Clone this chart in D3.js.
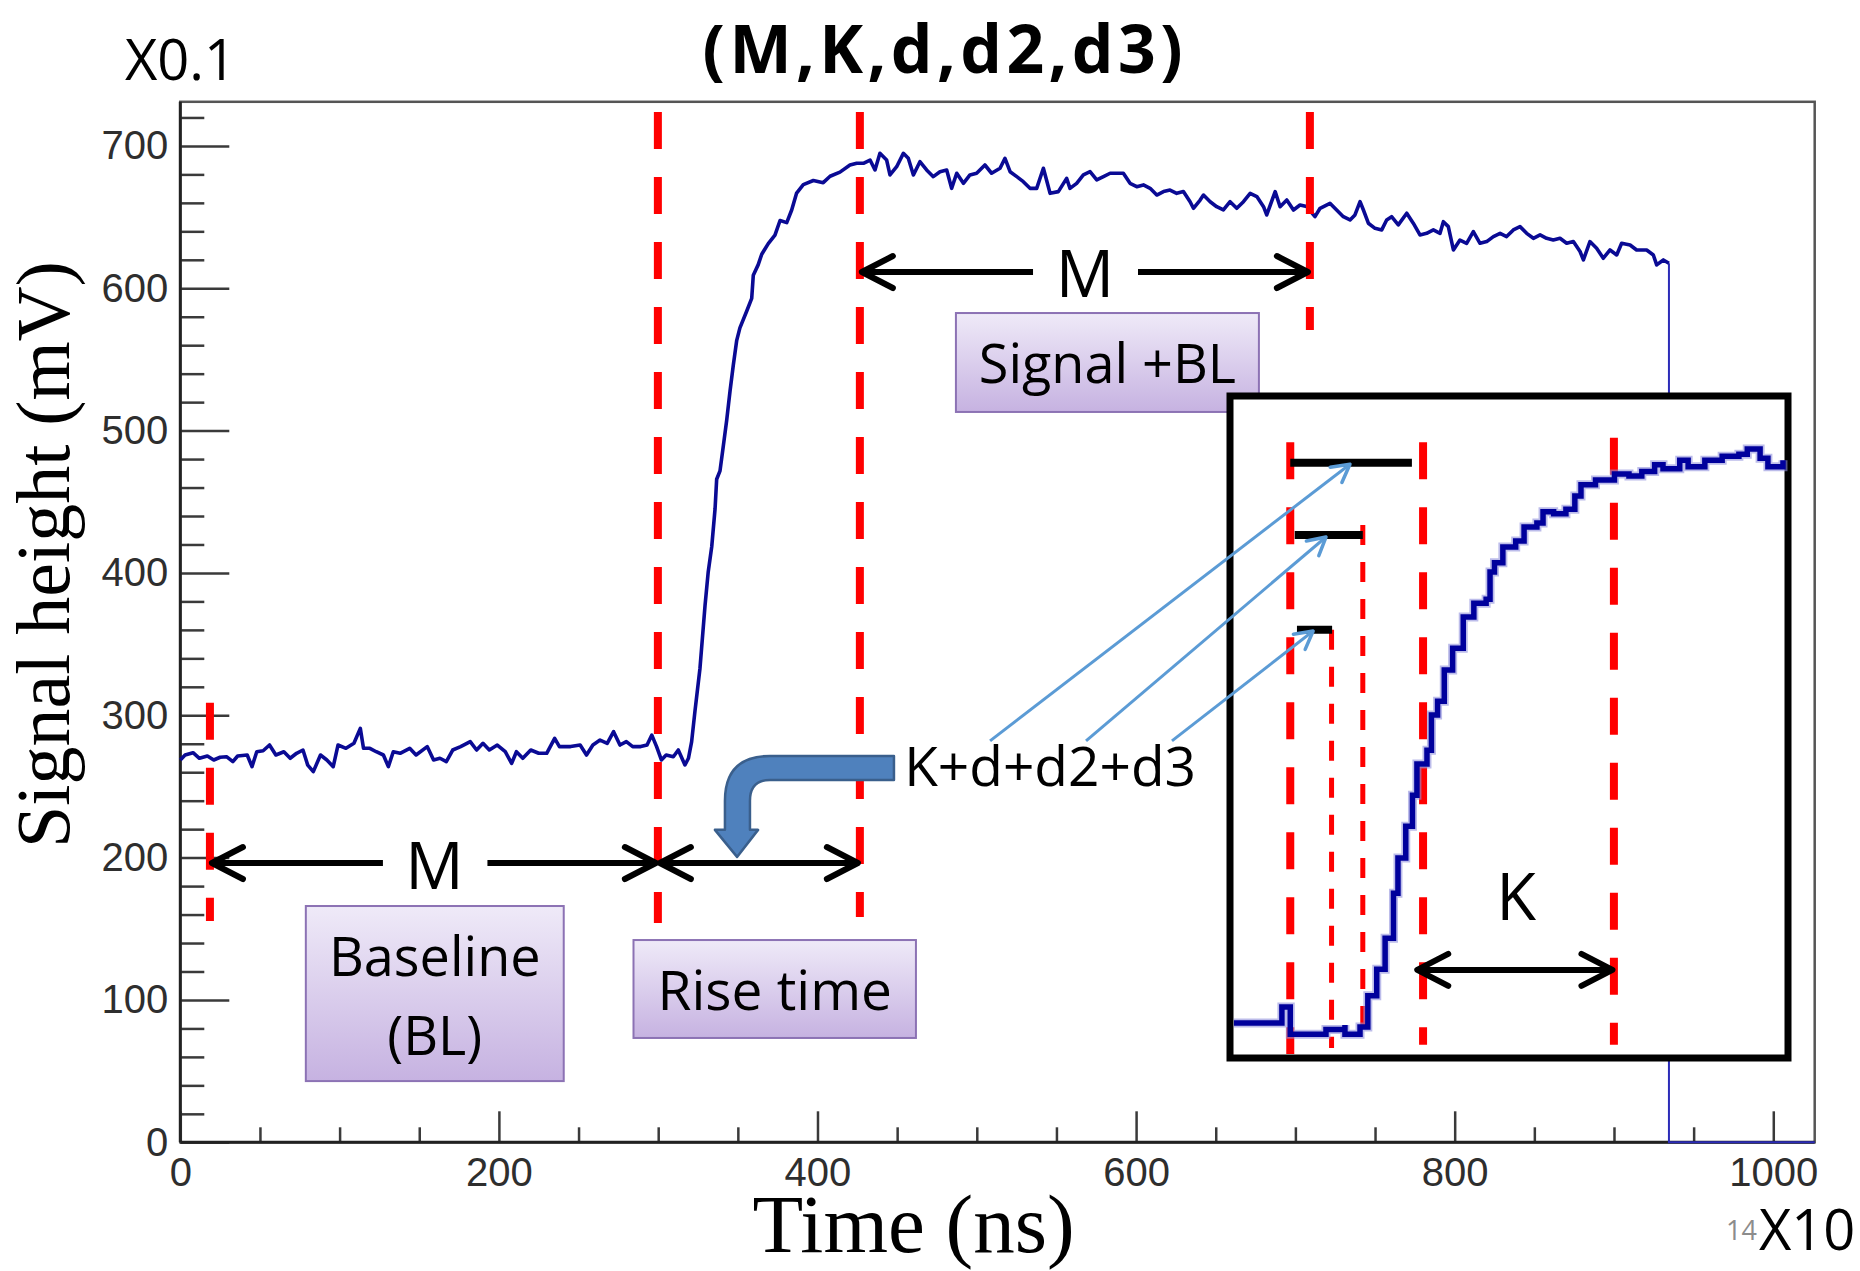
<!DOCTYPE html>
<html><head><meta charset="utf-8">
<script src="https://cdn.jsdelivr.net/npm/d3@7"></script>
<style>body{margin:0;background:#fff}svg{display:block}</style>
</head><body>
<svg id="c" width="1860" height="1271"></svg>
<script>
// ---------- DATA ----------
const signalTime = [0,3,8,12,17,21,25,29,33,36,42,45,48,52,56,60,65,69,73,77,80,83.5,88,92,96,99,104,109,113,115,119,123,127.5,130.6,133.7,138,144,148,155,159,163,167,171,176,182,186,190,194,199,204,208,211,215,220,225,230,235,238,245,251,255,259,263.5,268,272,276,280,284,289,293,296,299,302,305,309.5,312.6,316.8,319,321,
323.1,326.2,329.4,331.4,333.6,335.7,336.7,338.8,340.9,343,345.1,347.1,349.3,351.3,355.6,358.7,359.7,362.8,365,369.1,373.3,376.5,380.7,383.8,386.9,391.1,397.4,403.6,407.9,414.1,
420.4,424.6,428.8,433,436.1,439.2,443.4,445.5,449.7,453.9,457,460.2,464.3,468.5,472.7,476.9,481.1,484.2,487.4,491.6,495.7,499.9,505.1,509.3,514.6,517.7,520.9,525.1,529.2,533.4,537.6,541.8,546,551.2,556.4,558.5,562.7,566.9,571.1,575.3,579.5,583.7,587.9,592,596.2,600.4,604.6,608.8,613,617.2,621.3,625.5,629.7,633.9,636,640.2,642.3,646.5,650.6,654.8,659,663.2,667.4,671.6,675.8,680,682,687.3,690.4,694.6,698.8,
702.9,707.1,712.3,715.5,721.7,725.9,730.1,734.3,737.4,740.6,742.7,745.8,750,754.2,757.3,760.4,764.6,769.9,774,778.2,782.4,786.6,790.8,792.9,796,799.2,803.3,807.5,811.7,815.9,820.1,824.3,828.5,832.6,836.8,841,845.2,849.4,853.6,857.7,861.9,866.1,870.3,874.5,878.7,880.8,884.9,889.1,893.3,897.5,901.7,904.8,910.1,914.2,920.5,924.7,926.8,931,934.5];
const signalValue = [268.6,272.1,273.7,269.8,271.4,268.6,270.5,270.9,267.4,271.4,272.1,263.9,274.4,275.1,279.1,272.1,274.4,269.8,273.3,275.6,265,260.4,272.1,268.6,263.9,279.1,276.8,280.3,290.8,276.8,276.8,274.4,272.1,263.9,274.4,273.3,276.8,272.1,278,268.6,269.8,267.4,275.6,278,281.5,275.6,280.3,275.6,279.1,274.4,266.2,274.4,269.8,275.6,273.3,273.3,283.8,278,278,279.1,272.1,279.1,282.6,280.3,288.5,279.1,281.5,278,278,279.1,286.1,278,268.6,272.1,270.9,275.6,265.1,269.8,281.5,
303.1,332.7,377.1,400.7,418.4,445.1,465.8,471.7,489.4,507.2,527.8,545.6,563.4,572.2,584,592.9,609.2,616.6,623.9,631.4,637.3,647.6,646.1,655,666.9,672.8,675.7,674.2,678.7,681.6,
686.6,687.8,687.8,690.1,683.1,694.8,690.1,679.6,685.4,694.8,691.3,679.6,688.9,683.1,678.4,681.9,683.1,670.2,680.8,673.7,679.6,680.8,686.6,680.8,684.3,691.3,681.9,678.4,674.9,670.2,670.2,684.3,666.7,667.9,677.2,670.2,673.7,679.6,681.9,676.1,678.4,680.8,680.8,680.8,673.7,671.4,672.6,670.2,665.5,667.9,669,666.7,667.9,660.8,656.2,662,665.5,660.8,657.3,655,660.8,656.2,660.8,666.7,664.4,657.3,651.5,667.9,657.3,662,655,
658.5,657.4,650.3,656.2,659.7,655,650.3,648,651.5,660.9,655,645.7,642.1,641,648,650.3,644.5,652.7,645.7,637.5,638.6,641,638.6,646.8,643.3,626.9,633.9,631.6,639.8,631.6,632.8,636.3,638.6,636.3,641,643.3,638.6,635.1,637.5,635.1,633.9,635.1,631.6,632.8,625.8,619.9,632.8,628.1,621.1,626.9,623.4,631.6,630.4,626.9,626.9,623.4,616.4,619.9,617.6];
const tailTime = [934.5, 934.5, 1026];
const tailValue = [617.6, 0, 0];

const xMajorTicks = [0, 200, 400, 600, 800, 1000];
const xMinorTicks = [50,100,150,250,300,350,450,500,550,650,700,750,850,900,950];
const yMajorTicks = [0, 100, 200, 300, 400, 500, 600, 700];
const yMinorTicks = [20,40,60,80,120,140,160,180,220,240,260,280,320,340,360,380,420,440,460,480,520,540,560,580,620,640,660,680,720];

// zoomed inset (arbitrary inset units 0..100)
const insetTime = [0.7,9,9.3,10.8,10.8,17.2,20.6,20.6,23.3,24,24.7,26.3,27.8,29.3,30.1,31.5,32.7,33.5,35.3,36.1,37.2,38.4,39.9,41.8,43.7,45.9,46.6,47.4,48.9,51.2,52.7,55,56.1,58,60.2,61.8,62.9,65.5,67,68.9,71.5,73.8,76.1,77.6,80.6,82.1,85.1,88.2,91.2,92.7,95,96.4,99.1];
const insetSignal = [5.3,5.3,7.7,7.7,3.6,4.3,5,3.6,4.7,4.7,9.4,13.4,18.1,24.9,30.2,35,39.7,44.4,46.5,51.8,53.9,58.6,61.9,66.6,68.7,69.3,73.4,74.8,77.2,78.1,80.2,80.8,82.5,82.2,82.9,84.9,86.6,87.3,87.3,88.2,87.9,88.6,89.6,89,90.3,89.3,90.3,90.9,91.2,92,90.6,89.3,90.3];

// ---------- SETUP ----------
const svg = d3.select('#c');
svg.append('rect').attr('width',1860).attr('height',1271).attr('fill','#fff');
const x = d3.scaleLinear().domain([0, 1026]).range([180.3, 1814.7]);
const y = d3.scaleLinear().domain([0, 731]).range([1142.3, 101.8]);
const ix = d3.scaleLinear().domain([0, 100]).range([1230, 1788]);
const iy = d3.scaleLinear().domain([0, 100]).range([1058, 396]);

const defs = svg.append('defs');
const grad = defs.append('linearGradient').attr('id','pg').attr('x1',0).attr('y1',0).attr('x2',0).attr('y2',1);
grad.append('stop').attr('offset','0%').attr('stop-color','#efeaf8');
grad.append('stop').attr('offset','100%').attr('stop-color','#c6b2e1');

const sans = "'Open Sans', sans-serif";

// ---------- AXES ----------
const axG = svg.append('g');
axG.append('g').attr('transform',`translate(0,${y(0)})`)
  .call(d3.axisBottom(x).tickValues(xMajorTicks).tickSize(-31).tickPadding(15).tickFormat(d3.format('d')));
axG.append('g').attr('transform',`translate(0,${y(0)})`)
  .call(d3.axisBottom(x).tickValues(xMinorTicks).tickSize(-15).tickFormat(''));
axG.append('g').attr('transform',`translate(${x(0)},0)`)
  .call(d3.axisLeft(y).tickValues(yMajorTicks).tickSize(-49).tickPadding(12).tickFormat(d3.format('d')));
axG.append('g').attr('transform',`translate(${x(0)},0)`)
  .call(d3.axisLeft(y).tickValues(yMinorTicks).tickSize(-24).tickFormat(''));
axG.selectAll('.domain').remove();
axG.selectAll('.tick line').attr('stroke','#3a3a3a').attr('stroke-width',2.5);
axG.selectAll('.tick text').attr('font-family',"'Liberation Sans', Arial, sans-serif")
  .attr('font-size',40).attr('fill','#2e2e2e');
// frame
svg.append('rect').attr('x',x(0)).attr('y',y(731)).attr('width',x(1026)-x(0)).attr('height',y(0)-y(731))
  .attr('fill','none').attr('stroke','#555').attr('stroke-width',2.5);
svg.append('line').attr('x1',x(0)).attr('x2',x(1026)).attr('y1',y(0)).attr('y2',y(0)).attr('stroke','#222').attr('stroke-width',3);
svg.append('line').attr('x1',x(0)).attr('x2',x(0)).attr('y1',y(0)).attr('y2',y(731)).attr('stroke','#222').attr('stroke-width',3);

// ---------- SIGNAL ----------
const sig = signalTime.map((t,i)=>[t, signalValue[i]]);
const tail = tailTime.map((t,i)=>[t, tailValue[i]]);
const line = d3.line().x(d=>x(d[0])).y(d=>y(d[1]));
svg.append('path').attr('d', line(tail)).attr('fill','none').attr('stroke','#2b2bb8').attr('stroke-width',2);
svg.append('path').attr('d', line(sig)).attr('fill','none').attr('stroke','#0a0a94').attr('stroke-width',3.6)
  .attr('stroke-linejoin','round');

// ---------- TEXT ----------
svg.append('text').text('(M,K,d,d2,d3)').attr('x',942.6).attr('y',73).attr('text-anchor','middle')
  .attr('font-family',sans).attr('font-weight',700).attr('font-size',66)
  .attr('textLength',480).attr('lengthAdjust','spacing');
svg.append('text').text('X0.1').attr('x',125).attr('y',80).attr('font-family',sans).attr('font-size',56);
svg.append('text').text('X10').attr('x',1759).attr('y',1250).attr('font-family',sans).attr('font-size',56);
svg.append('text').text('14').attr('x',1726).attr('y',1240).attr('font-family',sans).attr('font-size',27).attr('fill','#8c8c8c');
svg.append('text').text('Time (ns)').attr('x',913.6).attr('y',1252).attr('text-anchor','middle')
  .attr('font-family',"'Liberation Serif', 'Times New Roman', serif").attr('font-size',83);
svg.append('text').text('Signal height (mV)').attr('transform','translate(69,554.5) rotate(-90)').attr('text-anchor','middle')
  .attr('font-family',"'Liberation Serif', 'Times New Roman', serif").attr('font-size',76);

// ---------- RED DASHED CUTS (main) ----------
const mainCuts = [[18.6,308.8,155.5],[299.8,723.9,154],[426.6,723.9,158.3],[709.1,723.9,570.7]];
svg.selectAll('.cut').data(mainCuts).join('line')
  .attr('x1',d=>x(d[0])).attr('x2',d=>x(d[0])).attr('y1',d=>y(d[1])).attr('y2',d=>y(d[2]))
  .attr('stroke','#ff0000').attr('stroke-width',8).attr('stroke-dasharray','37 28');

// ---------- BLACK ARROWS ----------
function chevron(tx, ty, dir){ // dir +1 points right, -1 points left
  svg.append('path').attr('d',`M${tx-dir*31},${ty-16} L${tx},${ty} L${tx-dir*31},${ty+16}`)
    .attr('fill','none').attr('stroke','#000').attr('stroke-width',6).attr('stroke-linecap','round').attr('stroke-linejoin','round');
}
function hseg(x1,x2,yy){
  svg.append('line').attr('x1',x1).attr('x2',x2).attr('y1',yy).attr('y2',yy).attr('stroke','#000').attr('stroke-width',6);
}
// Baseline M
const yA = y(196.2);
hseg(x(18.6)+2, x(127.2), yA); hseg(x(192.8), x(299.8)-2, yA);
chevron(x(18.6)+2, yA, -1); chevron(x(299.8)-2, yA, 1);
// Rise time
hseg(x(299.8)+2, x(426.6)-2, yA); chevron(x(299.8)+2, yA, -1); chevron(x(426.6)-2, yA, 1);
// Signal M
const yB = y(611.4);
hseg(x(426.6)+2, x(535.3), yB); hseg(x(601.2), x(709.1)-2, yB);
chevron(x(426.6)+2, yB, -1); chevron(x(709.1)-2, yB, 1);
svg.append('text').text('M').attr('x',x(159.6)).attr('y',y(178)).attr('text-anchor','middle').attr('font-family',sans).attr('font-size',65);
svg.append('text').text('M').attr('x',x(567.9)).attr('y',y(594.1)).attr('text-anchor','middle').attr('font-family',sans).attr('font-size',65);

// ---------- PURPLE BOXES ----------
const boxes = [
  {t0:78.8,t1:240.7,v0:166,v1:43, lines:[['Baseline',116.5],['(BL)',61.3]], fs:54},
  {t0:284.5,t1:461.8,v0:142.1,v1:73.3, lines:[['Rise time',92.9]], fs:55},
  {t0:486.9,t1:677.1,v0:582.6,v1:513.1, lines:[['Signal +BL',533.4]], fs:54}
];
boxes.forEach(b=>{
  svg.append('rect').attr('x',x(b.t0)).attr('y',y(b.v0)).attr('width',x(b.t1)-x(b.t0)).attr('height',y(b.v1)-y(b.v0))
    .attr('fill','url(#pg)').attr('stroke','#8c72b4').attr('stroke-width',2);
  b.lines.forEach(l=>{
    svg.append('text').text(l[0]).attr('x',(x(b.t0)+x(b.t1))/2).attr('y',y(l[1])).attr('text-anchor','middle')
      .attr('font-family',sans).attr('font-size',b.fs);
  });
});

// ---------- BLUE BENT ARROW ----------
const bp = [[448,271.4],[370.2,271.4],'q',[341.9,271.4],[341.9,239.9],[341.9,219.5],[335.6,219.5],[349.5,200.5],[362.7,219.5],[357.6,219.5],[357.6,239.9],'q',[357.6,254.6],[370.2,254.6],[448,254.6]];
let dstr = `M${x(bp[0][0])},${y(bp[0][1])} L${x(bp[1][0])},${y(bp[1][1])} Q${x(bp[3][0])},${y(bp[3][1])} ${x(bp[4][0])},${y(bp[4][1])}`;
[5,6,7,8,9,10].forEach(i=>{ dstr += ` L${x(bp[i][0])},${y(bp[i][1])}`; });
dstr += ` Q${x(bp[12][0])},${y(bp[12][1])} ${x(bp[13][0])},${y(bp[13][1])} L${x(bp[14][0])},${y(bp[14][1])} Z`;
svg.append('path').attr('d',dstr).attr('fill','#4f81bd').attr('stroke','#3a5f8c').attr('stroke-width',2.5).attr('stroke-linejoin','round');
svg.append('text').text('K+d+d2+d3').attr('x',x(546)).attr('y',y(250.3)).attr('text-anchor','middle').attr('font-family',sans).attr('font-size',55);

// ---------- INSET ----------
svg.append('rect').attr('x',ix(0)).attr('y',iy(100)).attr('width',ix(100)-ix(0)).attr('height',iy(0)-iy(100))
  .attr('fill','#fff').attr('stroke','#000').attr('stroke-width',7);
const insetCuts = [[10.8,93,0.6,'thick'],[18.2,64.7,1.5,'thin'],[23.8,80.5,3.9,'thin'],[34.6,93,2,'thick'],[68.8,93.7,2,'thick']];
svg.selectAll('.icut').data(insetCuts).join('line')
  .attr('x1',d=>ix(d[0])).attr('x2',d=>ix(d[0])).attr('y1',d=>iy(d[1])).attr('y2',d=>iy(d[2]))
  .attr('stroke','#ff0000').attr('stroke-width',d=>d[3]==='thick'?8:5)
  .attr('stroke-dasharray',d=>d[3]==='thick'?'37 28':'20 17');
const iline = d3.line().x(d=>ix(d[0])).y(d=>iy(d[1])).curve(d3.curveStepAfter);
const ipts = insetTime.map((t,i)=>[t, insetSignal[i]]);
svg.append('path').attr('d',iline(ipts)).attr('fill','none').attr('stroke','#8f8fdc').attr('stroke-width',9).attr('opacity',0.6);
svg.append('path').attr('d',iline(ipts)).attr('fill','none').attr('stroke','#00009c').attr('stroke-width',5.5);
// black bars
const bars = [[10.8,32.6,89.9],[11.6,23.8,79.0],[12.0,18.3,64.7]];
svg.selectAll('.bar').data(bars).join('line')
  .attr('x1',d=>ix(d[0])).attr('x2',d=>ix(d[1])).attr('y1',d=>iy(d[2])).attr('y2',d=>iy(d[2]))
  .attr('stroke','#000').attr('stroke-width',8);
// K arrow
const yK = iy(13.3);
svg.append('line').attr('x1',ix(33.2)+2).attr('x2',ix(68.9)-2).attr('y1',yK).attr('y2',yK).attr('stroke','#000').attr('stroke-width',6);
chevron(ix(33.2)+2, yK, -1); chevron(ix(68.9)-2, yK, 1);
svg.append('text').text('K').attr('x',ix(51.3)).attr('y',iy(20.8)).attr('text-anchor','middle').attr('font-family',sans).attr('font-size',65);
// blue pointer arrows
const pointers = [[-43,47.9,21.5,89.7],[-25.8,47.9,17.2,78.7],[-10.4,47.9,14.9,64.5]];
pointers.forEach(p=>{
  const x1=ix(p[0]), y1=iy(p[1]), x2=ix(p[2]), y2=iy(p[3]);
  svg.append('line').attr('x1',x1).attr('y1',y1).attr('x2',x2).attr('y2',y2).attr('stroke','#5b9bd5').attr('stroke-width',3);
  const ang = Math.atan2(y2-y1, x2-x1), L=20, a=0.5;
  const p1=[x2-L*Math.cos(ang-a), y2-L*Math.sin(ang-a)], p2=[x2-L*Math.cos(ang+a), y2-L*Math.sin(ang+a)];
  svg.append('path').attr('d',`M${p1[0]},${p1[1]} L${x2},${y2} L${p2[0]},${p2[1]}`).attr('fill','none')
    .attr('stroke','#5b9bd5').attr('stroke-width',3.5).attr('stroke-linecap','round').attr('stroke-linejoin','round');
});
</script>
</body></html>
